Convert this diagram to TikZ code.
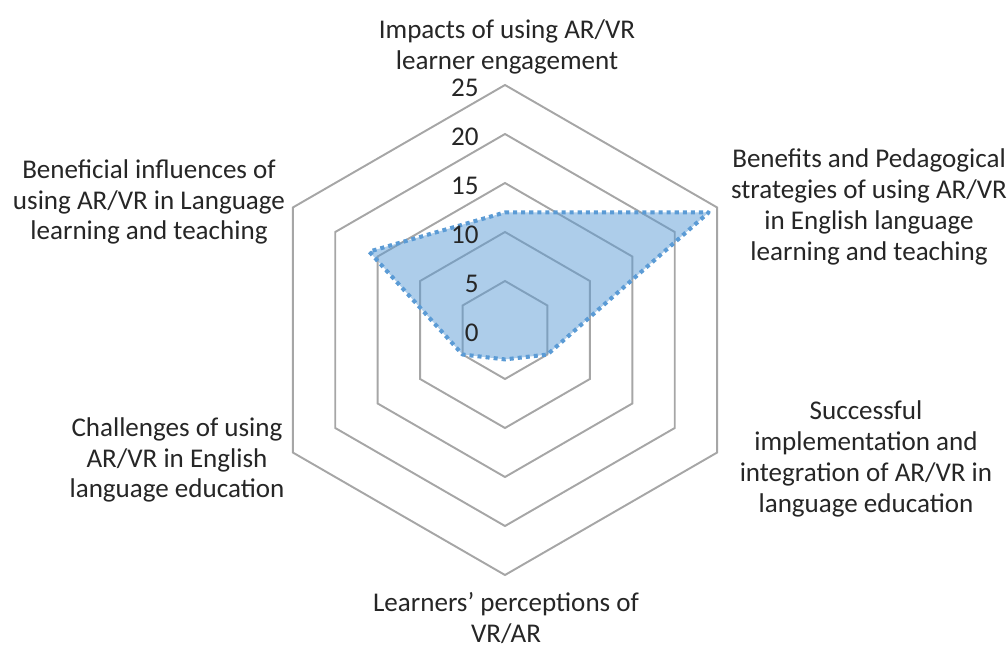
\documentclass[tikz,border=0pt]{standalone}
\usepackage{fontspec}
\setmainfont{Carlito}
\usetikzlibrary{positioning}
\definecolor{gridgray}{HTML}{A6A6A6}
\definecolor{seriesblue}{HTML}{5B9BD5}
\definecolor{labeltext}{HTML}{262626}

\tikzset{
  gridring/.style={draw=gridgray, line width=1.1pt, line join=miter},
  axislabel/.style={align=center, text=labeltext, font=\fontsize{15.4}{17.6}\selectfont, inner sep=0pt},
  ticklabel/.style={anchor=east, text=labeltext, font=\fontsize{15.4}{17.6}\selectfont, inner sep=0pt}
}

\begin{document}
\begin{tikzpicture}[x=0.02cm, y=0.02cm]
\useasboundingbox (-505,-320) rectangle (503,330);

% hexagonal grid rings
\foreach \r [evaluate=\r as \rad using \r*9.8] in {5,10,...,25}
  \draw[gridring] (90:\rad) -- (30:\rad) -- (-30:\rad) -- (-90:\rad) -- (-150:\rad) -- (150:\rad) -- cycle;

% data points
\coordinate (impacts pt) at (90:12*9.8);
\coordinate (benefits pt) at (30:24*9.8);
\coordinate (successful pt) at (-30:5*9.8);
\coordinate (perceptions pt) at (-90:3*9.8);
\coordinate (challenges pt) at (-150:5*9.8);
\coordinate (influences pt) at (150:16*9.8);

\fill[seriesblue, fill opacity=0.5] (impacts pt) -- (benefits pt) -- (successful pt) -- (perceptions pt) -- (challenges pt) -- (influences pt) -- cycle;
\draw[seriesblue, line width=2.3pt, dash pattern=on 2.3pt off 2.3pt, line join=round] (impacts pt) -- (benefits pt) -- (successful pt) -- (perceptions pt) -- (challenges pt) -- (influences pt) -- cycle;

% scale values
\foreach \v in {0,5,...,25}
  \node[ticklabel] (tick\v) at (-26, \v*9.8-3) {\v};

% axis labels
\node[axislabel] (impacts) at (2,283) {Impacts of using AR/VR\\learner engagement};
\node[axislabel] (benefits) at (364,123) {Benefits and Pedagogical\\strategies of using AR/VR\\in English language\\learning and teaching};
\node[axislabel] (successful) at (361,-129) {Successful\\implementation and\\integration of AR/VR in\\language education};
\node[axislabel] (perceptions) at (1,-288) {Learners’ perceptions of\\VR/AR};
\node[axislabel] (challenges) at (-328,-130) {Challenges of using\\AR/VR in English\\language education};
\node[axislabel] (influences) at (-356,128) {Beneficial influences of\\using AR/VR in Language\\learning and teaching};
\end{tikzpicture}
\end{document}
